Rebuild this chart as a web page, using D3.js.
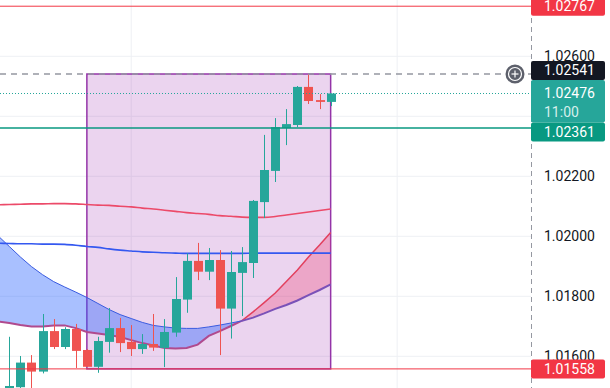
<!DOCTYPE html>
<html>
<head>
<meta charset="utf-8">
<script src="https://cdn.jsdelivr.net/npm/d3@7/dist/d3.min.js"></script>
<style>
  body { margin: 0; background: #fff; }
  svg { display: block; font-family: Roboto, "Noto Sans", sans-serif; }
</style>
</head>
<body>
<script>
const w = 610;
const h = 388;
const plotW = 531; // price scale starts here

// OHLC, oldest first (bar index 0..29)
const opens  = [1.01493, 1.01497, 1.01579, 1.01549, 1.01684, 1.01631, 1.01691, 1.01621, 1.01565, 1.01648,
                1.01694, 1.01648, 1.01624, 1.01641, 1.01628, 1.01679, 1.01789, 1.01918, 1.01882, 1.01921,
                1.01759, 1.01878, 1.01911, 1.02114, 1.02218, 1.02361, 1.02371, 1.02498, 1.02454, 1.02448];
const highs  = [1.01665, 1.01601, 1.01604, 1.01741, 1.01724, 1.01697, 1.01708, 1.01624, 1.01665, 1.01761,
                1.01728, 1.01704, 1.01674, 1.01741, 1.01724, 1.01864, 1.01943, 1.01978, 1.01961, 1.01954,
                1.01951, 1.01964, 1.02121, 1.02338, 1.02394, 1.02424, 1.02501, 1.02541, 1.02474, 1.02476];
const lows   = [1.01488, 1.01494, 1.01491, 1.01543, 1.01624, 1.01624, 1.01561, 1.01564, 1.01545, 1.01612,
                1.01614, 1.01601, 1.01608, 1.01618, 1.01564, 1.01665, 1.01745, 1.01854, 1.01854, 1.01604,
                1.01659, 1.01734, 1.01861, 1.02061, 1.02181, 1.02304, 1.02364, 1.02441, 1.02424, 1.02434];
const closes = [1.01501, 1.01579, 1.01549, 1.01684, 1.01631, 1.01691, 1.01618, 1.01565, 1.01651, 1.01694,
                1.01644, 1.01624, 1.01641, 1.01629, 1.01681, 1.01791, 1.01918, 1.01882, 1.01921, 1.01759,
                1.01881, 1.01914, 1.02118, 1.02221, 1.02364, 1.02374, 1.02498, 1.02451, 1.02448, 1.02476];

// indicator lines, bar index -1..29
const lineStart = -1;
const maRed  = [1.02105, 1.02106, 1.02107, 1.02108, 1.02108, 1.02109, 1.02109, 1.02108, 1.02106, 1.02104,
                1.02103, 1.02100, 1.02098, 1.02094, 1.02091, 1.02087, 1.02083, 1.02079, 1.02076, 1.02073,
                1.02069, 1.02067, 1.02064, 1.02063, 1.02063, 1.02066, 1.02071, 1.02076, 1.02081, 1.02086, 1.02091];
const maBlue = [1.01977, 1.01976, 1.01975, 1.01975, 1.01974, 1.01974, 1.01973, 1.01970, 1.01966, 1.01963,
                1.01958, 1.01954, 1.01951, 1.01948, 1.01947, 1.01945, 1.01944, 1.01943, 1.01943, 1.01943,
                1.01943, 1.01943, 1.01943, 1.01944, 1.01944, 1.01944, 1.01944, 1.01944, 1.01944, 1.01944, 1.01944];
const cloudA = [1.02001, 1.01966, 1.01931, 1.01899, 1.01872, 1.01849, 1.01831, 1.01814, 1.01796, 1.01776,
                1.01756, 1.01739, 1.01726, 1.01713, 1.01703, 1.01698, 1.01694, 1.01693, 1.01693, 1.01698,
                1.01704, 1.01711, 1.01718, 1.01729, 1.01743, 1.01758, 1.01771, 1.01786, 1.01804, 1.01821, 1.01840];
const cloudB = [1.01716, 1.01711, 1.01704, 1.01699, 1.01699, 1.01703, 1.01703, 1.01694, 1.01681, 1.01676,
                1.01671, 1.01664, 1.01654, 1.01644, 1.01636, 1.01628, 1.01626, 1.01628, 1.01639, 1.01668,
                1.01684, 1.01701, 1.01719, 1.01748, 1.01779, 1.01811, 1.01849, 1.01888, 1.01931, 1.01971, 1.02013];

// price range drawing
const rangeFrom = 7;
const rangeTo = 29;
const rangeHigh = 1.02541;
const rangeLow = 1.01558;

const yTicks = [1.016, 1.018, 1.020, 1.022, 1.024, 1.026];
const timeGrid = [11, 35];

const lastPrice = 1.02476;
const crossPrice = 1.02541;
const tealLevel = 1.02361;
const redLevels = [1.02767, 1.01558];
const countdown = "11:00";

const up = "#26a69a";
const down = "#ef5350";

const svg = d3.select("body")
    .append("svg")
    .attr("width", w)
    .attr("height", h);

const x = d3.scaleLinear().domain([-0.84, 47.08]).range([0, plotW]);
const y = d3.scaleLinear().domain([1.014943, 1.027877]).range([h, 0]);

svg.append("clipPath").attr("id", "plot")
    .append("rect").attr("width", plotW).attr("height", h);

const plot = svg.append("g").attr("clip-path", "url(#plot)");

// grid
plot.selectAll("line.hgrid")
    .data(yTicks)
    .enter().append("line")
    .attr("x1", 0).attr("x2", plotW)
    .attr("y1", d => y(d)).attr("y2", d => y(d))
    .attr("stroke", "#eef0f4");

plot.selectAll("line.vgrid")
    .data(timeGrid)
    .enter().append("line")
    .attr("x1", d => x(d)).attr("x2", d => x(d))
    .attr("y1", 0).attr("y2", h)
    .attr("stroke", "#eef0f4");

// range rectangle
plot.append("rect")
    .attr("x", x(rangeFrom))
    .attr("y", y(rangeHigh))
    .attr("width", x(rangeTo) - x(rangeFrom))
    .attr("height", y(rangeLow) - y(rangeHigh))
    .attr("fill", "rgba(156, 39, 176, 0.2)")
    .attr("stroke", "#9434a8")
    .attr("stroke-width", 1.5);

// cloud: split into runs where A is above / below B
const pts = cloudA.map((a, i) => ({ k: i + lineStart, a: a, b: cloudB[i] }));
const runs = [];
let run = [pts[0]];
for (let i = 1; i < pts.length; i++) {
    const p0 = pts[i - 1], p1 = pts[i];
    const d0 = p0.a - p0.b, d1 = p1.a - p1.b;
    if (d0 * d1 < 0) {
        const t = d0 / (d0 - d1);
        const v = p0.a + t * (p1.a - p0.a);
        const cross = { k: p0.k + t, a: v, b: v };
        run.push(cross);
        runs.push(run);
        run = [cross];
    }
    run.push(p1);
}
runs.push(run);

const area = d3.area().x(d => x(d.k)).y0(d => y(d.b)).y1(d => y(d.a));
const lineA = d3.line().x(d => x(d.k)).y(d => y(d.a));
const lineB = d3.line().x(d => x(d.k)).y(d => y(d.b));

runs.forEach(r => {
    const mid = r[Math.floor(r.length / 2)];
    const bull = mid.a > mid.b;
    plot.append("path").datum(r)
        .attr("d", area)
        .attr("fill", bull ? "rgba(41, 98, 255, 0.4)" : "rgba(240, 60, 110, 0.3)");
    plot.append("path").datum(r)
        .attr("d", lineB)
        .attr("fill", "none")
        .attr("stroke", bull ? "#b04a8e" : "#e2405e")
        .attr("stroke-width", bull ? 2 : 1.5);
    plot.append("path").datum(r)
        .attr("d", lineA)
        .attr("fill", "none")
        .attr("stroke", bull ? "#3a5be0" : "#7a52b8")
        .attr("stroke-width", bull ? 1 : 2);
});

// moving averages
const maLine = d3.line().x((d, i) => x(i + lineStart)).y(d => y(d)).curve(d3.curveMonotoneX);

plot.append("path").datum(maRed)
    .attr("d", maLine)
    .attr("fill", "none")
    .attr("stroke", "#ec4a69")
    .attr("stroke-width", 1.6);

plot.append("path").datum(maBlue)
    .attr("d", maLine)
    .attr("fill", "none")
    .attr("stroke", "#3458f0")
    .attr("stroke-width", 1.6);

// candles
const candles = opens.map((o, i) => ({ i: i, o: o, h: highs[i], l: lows[i], c: closes[i] }));
const bodyW = 9;

const cg = plot.selectAll("g.candle")
    .data(candles)
    .enter().append("g")
    .attr("fill", d => d.c >= d.o ? up : down)
    .attr("stroke", d => d.c >= d.o ? up : down);

cg.append("line")
    .attr("x1", d => Math.round(x(d.i)) + 0.5)
    .attr("x2", d => Math.round(x(d.i)) + 0.5)
    .attr("y1", d => y(d.h))
    .attr("y2", d => y(d.l))
    .attr("stroke-width", 1);

cg.append("rect")
    .attr("x", d => Math.round(x(d.i)) + 0.5 - bodyW / 2)
    .attr("y", d => y(Math.max(d.o, d.c)))
    .attr("width", bodyW)
    .attr("height", d => Math.max(1, Math.abs(y(d.o) - y(d.c))))
    .attr("stroke", "none");

// horizontal levels
plot.selectAll("line.red-level")
    .data(redLevels)
    .enter().append("line")
    .attr("x1", 0).attr("x2", plotW)
    .attr("y1", d => y(d)).attr("y2", d => y(d))
    .attr("stroke", "#f23645")
    .attr("stroke-width", 1);

plot.append("line")
    .attr("x1", 0).attr("x2", plotW)
    .attr("y1", y(tealLevel)).attr("y2", y(tealLevel))
    .attr("stroke", "#089981")
    .attr("stroke-width", 1.3);

plot.append("line")
    .attr("x1", 0).attr("x2", plotW)
    .attr("y1", y(lastPrice)).attr("y2", y(lastPrice))
    .attr("stroke", up)
    .attr("stroke-dasharray", "1,2");

plot.append("line")
    .attr("x1", 0).attr("x2", plotW)
    .attr("y1", y(crossPrice)).attr("y2", y(crossPrice))
    .attr("stroke", "#9598a1")
    .attr("stroke-width", 1.3)
    .attr("stroke-dasharray", "6,5");

// crosshair "+" button
const btn = svg.append("g").attr("transform", `translate(${plotW - 16}, ${y(crossPrice)})`);
btn.append("circle").attr("r", 9.5).attr("fill", "#5d606b");
btn.append("circle").attr("r", 6.5).attr("fill", "none").attr("stroke", "#fff").attr("stroke-width", 1.2);
btn.append("line").attr("x1", -3.5).attr("x2", 3.5).attr("stroke", "#fff").attr("stroke-width", 1.2);
btn.append("line").attr("y1", -3.5).attr("y2", 3.5).attr("stroke", "#fff").attr("stroke-width", 1.2);

// price scale
const yAxis = d3.axisRight(y)
    .tickValues(yTicks)
    .tickFormat(d3.format(".5f"))
    .tickSize(0)
    .tickPadding(13);

const ax = svg.append("g")
    .attr("transform", `translate(${plotW}, 0)`)
    .call(yAxis);
ax.select(".domain").remove();
ax.selectAll("text")
    .attr("fill", "#131722")
    .style("font-size", "14px")
    .style("font-family", "Roboto, sans-serif");

svg.append("line")
    .attr("x1", plotW + 0.5).attr("x2", plotW + 0.5)
    .attr("y1", 0).attr("y2", h)
    .attr("stroke", "#9598a1")
    .attr("stroke-dasharray", "5,4");

// price labels
const labelW = 74;
const fmt = d3.format(".5f");

function label(top, height, fill, lines) {
    const g = svg.append("g");
    g.append("rect")
        .attr("x", plotW).attr("y", top)
        .attr("width", labelW).attr("height", height)
        .attr("rx", 2)
        .attr("fill", fill);
    lines.forEach(l => {
        g.append("text")
            .attr("x", plotW + 13).attr("y", l.y)
            .attr("dy", "0.35em")
            .attr("fill", l.color || "#fff")
            .style("font-size", "14px")
            .text(l.text);
    });
}

redLevels.forEach(v => {
    label(y(v) - 9.5, 19, "#f23645", [{ y: y(v), text: fmt(v) }]);
});

const lastTop = y(lastPrice) - 13.5;
const lastH = 42.5;
label(lastTop, lastH, up, [
    { y: y(lastPrice), text: fmt(lastPrice) },
    { y: y(lastPrice) + 18.5, text: countdown, color: "#d5efec" }
]);
label(lastTop - 19, 19, "#131722", [{ y: lastTop - 9.5, text: fmt(crossPrice) }]);
label(lastTop + lastH, 19, "#089981", [{ y: lastTop + lastH + 9.5, text: fmt(tealLevel) }]);
</script>
</body>
</html>
